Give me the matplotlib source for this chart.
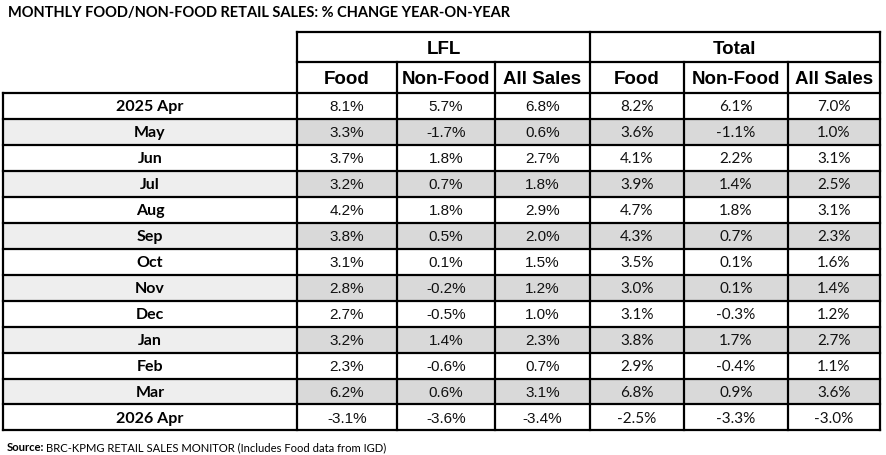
import matplotlib
matplotlib.use("Agg")
import matplotlib.pyplot as plt
from matplotlib.patches import Rectangle

title = "MONTHLY FOOD/NON-FOOD RETAIL SALES: % CHANGE YEAR-ON-YEAR"
groups = ["LFL", "Total"]
subcols = ["Food", "Non-Food", "All Sales"]
months = ["2025 Apr", "May", "Jun", "Jul", "Aug", "Sep", "Oct", "Nov",
          "Dec", "Jan", "Feb", "Mar", "2026 Apr"]
lfl_food = [8.1, 3.3, 3.7, 3.2, 4.2, 3.8, 3.1, 2.8, 2.7, 3.2, 2.3, 6.2, -3.1]
lfl_nonfood = [5.7, -1.7, 1.8, 0.7, 1.8, 0.5, 0.1, -0.2, -0.5, 1.4, -0.6, 0.6, -3.6]
lfl_all = [6.8, 0.6, 2.7, 1.8, 2.9, 2.0, 1.5, 1.2, 1.0, 2.3, 0.7, 3.1, -3.4]
tot_food = [8.2, 3.6, 4.1, 3.9, 4.7, 4.3, 3.5, 3.0, 3.1, 3.8, 2.9, 6.8, -2.5]
tot_nonfood = [6.1, -1.1, 2.2, 1.4, 1.8, 0.7, 0.1, 0.1, -0.3, 1.7, -0.4, 0.9, -3.3]
tot_all = [7.0, 1.0, 3.1, 2.5, 3.1, 2.3, 1.6, 1.4, 1.2, 2.7, 1.1, 3.6, -3.0]
source_label = "Source:"
source_text = "BRC-KPMG RETAIL SALES MONITOR (Includes Food data from IGD)"

columns = [lfl_food, lfl_nonfood, lfl_all, tot_food, tot_nonfood, tot_all]

W, H = 886, 456
fig = plt.figure(figsize=(W / 100, H / 100), dpi=100)
ax = fig.add_axes([0, 0, 1, 1])
ax.set_xlim(0, W)
ax.set_ylim(H, 0)
ax.axis("off")

# layout (pixels)
x_edges = [3, 297, 397, 495, 590, 684, 788, 880]
y_top, y_mid, y_data = 33, 63, 93.5
row_h = 26.0
n = len(months)
y_bottom = y_data + n * row_h
lw = 1.6
gray_label = "#EEEEEE"
gray_data = "#D9D9D9"

# backgrounds
for i in range(n):
    if i % 2 == 1:
        y0 = y_data + i * row_h
        ax.add_patch(Rectangle((x_edges[0], y0), x_edges[1] - x_edges[0], row_h,
                               facecolor=gray_label, edgecolor="none", zorder=0))
        ax.add_patch(Rectangle((x_edges[1], y0), x_edges[-1] - x_edges[1], row_h,
                               facecolor=gray_data, edgecolor="none", zorder=0))

# lines
line_kw = dict(color="black", lw=lw, solid_capstyle="projecting", zorder=3)
ax.plot([x_edges[1], x_edges[-1]], [y_top, y_top], **line_kw)
ax.plot([x_edges[1], x_edges[-1]], [y_mid, y_mid], **line_kw)
for i in range(n + 1):
    y = y_data + i * row_h
    ax.plot([x_edges[0], x_edges[-1]], [y, y], **line_kw)
ax.plot([x_edges[0], x_edges[0]], [y_data, y_bottom], **line_kw)
for j, x in enumerate(x_edges[1:]):
    if j in (0, 3, 6):
        ax.plot([x, x], [y_top, y_bottom], **line_kw)
    else:
        ax.plot([x, x], [y_mid, y_bottom], **line_kw)

hdr_font = dict(family="Liberation Sans", weight="bold", size=13.5)
# group headers
for g, name in enumerate(groups):
    xa, xb = x_edges[1 + 3 * g], x_edges[4 + 3 * g]
    ax.text((xa + xb) / 2, (y_top + y_mid) / 2 + 1, name, ha="center", va="center", **hdr_font)
    for k, sc in enumerate(subcols):
        xa2, xb2 = x_edges[1 + 3 * g + k], x_edges[2 + 3 * g + k]
        ax.text((xa2 + xb2) / 2, (y_mid + y_data) / 2 + 1, sc, ha="center", va="center", **hdr_font)

# rows
for i, m in enumerate(months):
    yc = y_data + (i + 0.5) * row_h + 0.5
    ax.text((x_edges[0] + x_edges[1]) / 2, yc, m, ha="center", va="center",
            family="Lato", weight="bold", size=11.5)
    for c, vals in enumerate(columns):
        xc = (x_edges[1 + c] + x_edges[2 + c]) / 2
        fam = "Liberation Sans" if c < 3 else "Lato"
        ax.text(xc, yc, f"{vals[i]:.1f}%", ha="center", va="center",
                family=fam, size=11, color="#111111")

# title (fit to width)
t = ax.text(8, 12.5, title, ha="left", va="center", family="Lato", weight="bold", size=12)
fig.canvas.draw()
r = fig.canvas.get_renderer()
w = t.get_window_extent(r).width
t.set_fontsize(12 * 502 / w)

# source (fit to width)
fs = 7.5
s1 = ax.text(7, 448, source_label, ha="left", va="center", family="Lato", weight="bold", size=fs)
s2 = ax.text(40, 448, source_text, ha="left", va="center", family="Lato", size=fs)
fig.canvas.draw()
tot = s1.get_window_extent(r).width + 2 + s2.get_window_extent(r).width
fs2 = fs * 383 / tot
s1.set_fontsize(fs2)
s2.set_fontsize(fs2)
fig.canvas.draw()
bb = s1.get_window_extent(r)
s2.set_x(bb.x1 + 2)

fig.savefig("out.png", dpi=100)
